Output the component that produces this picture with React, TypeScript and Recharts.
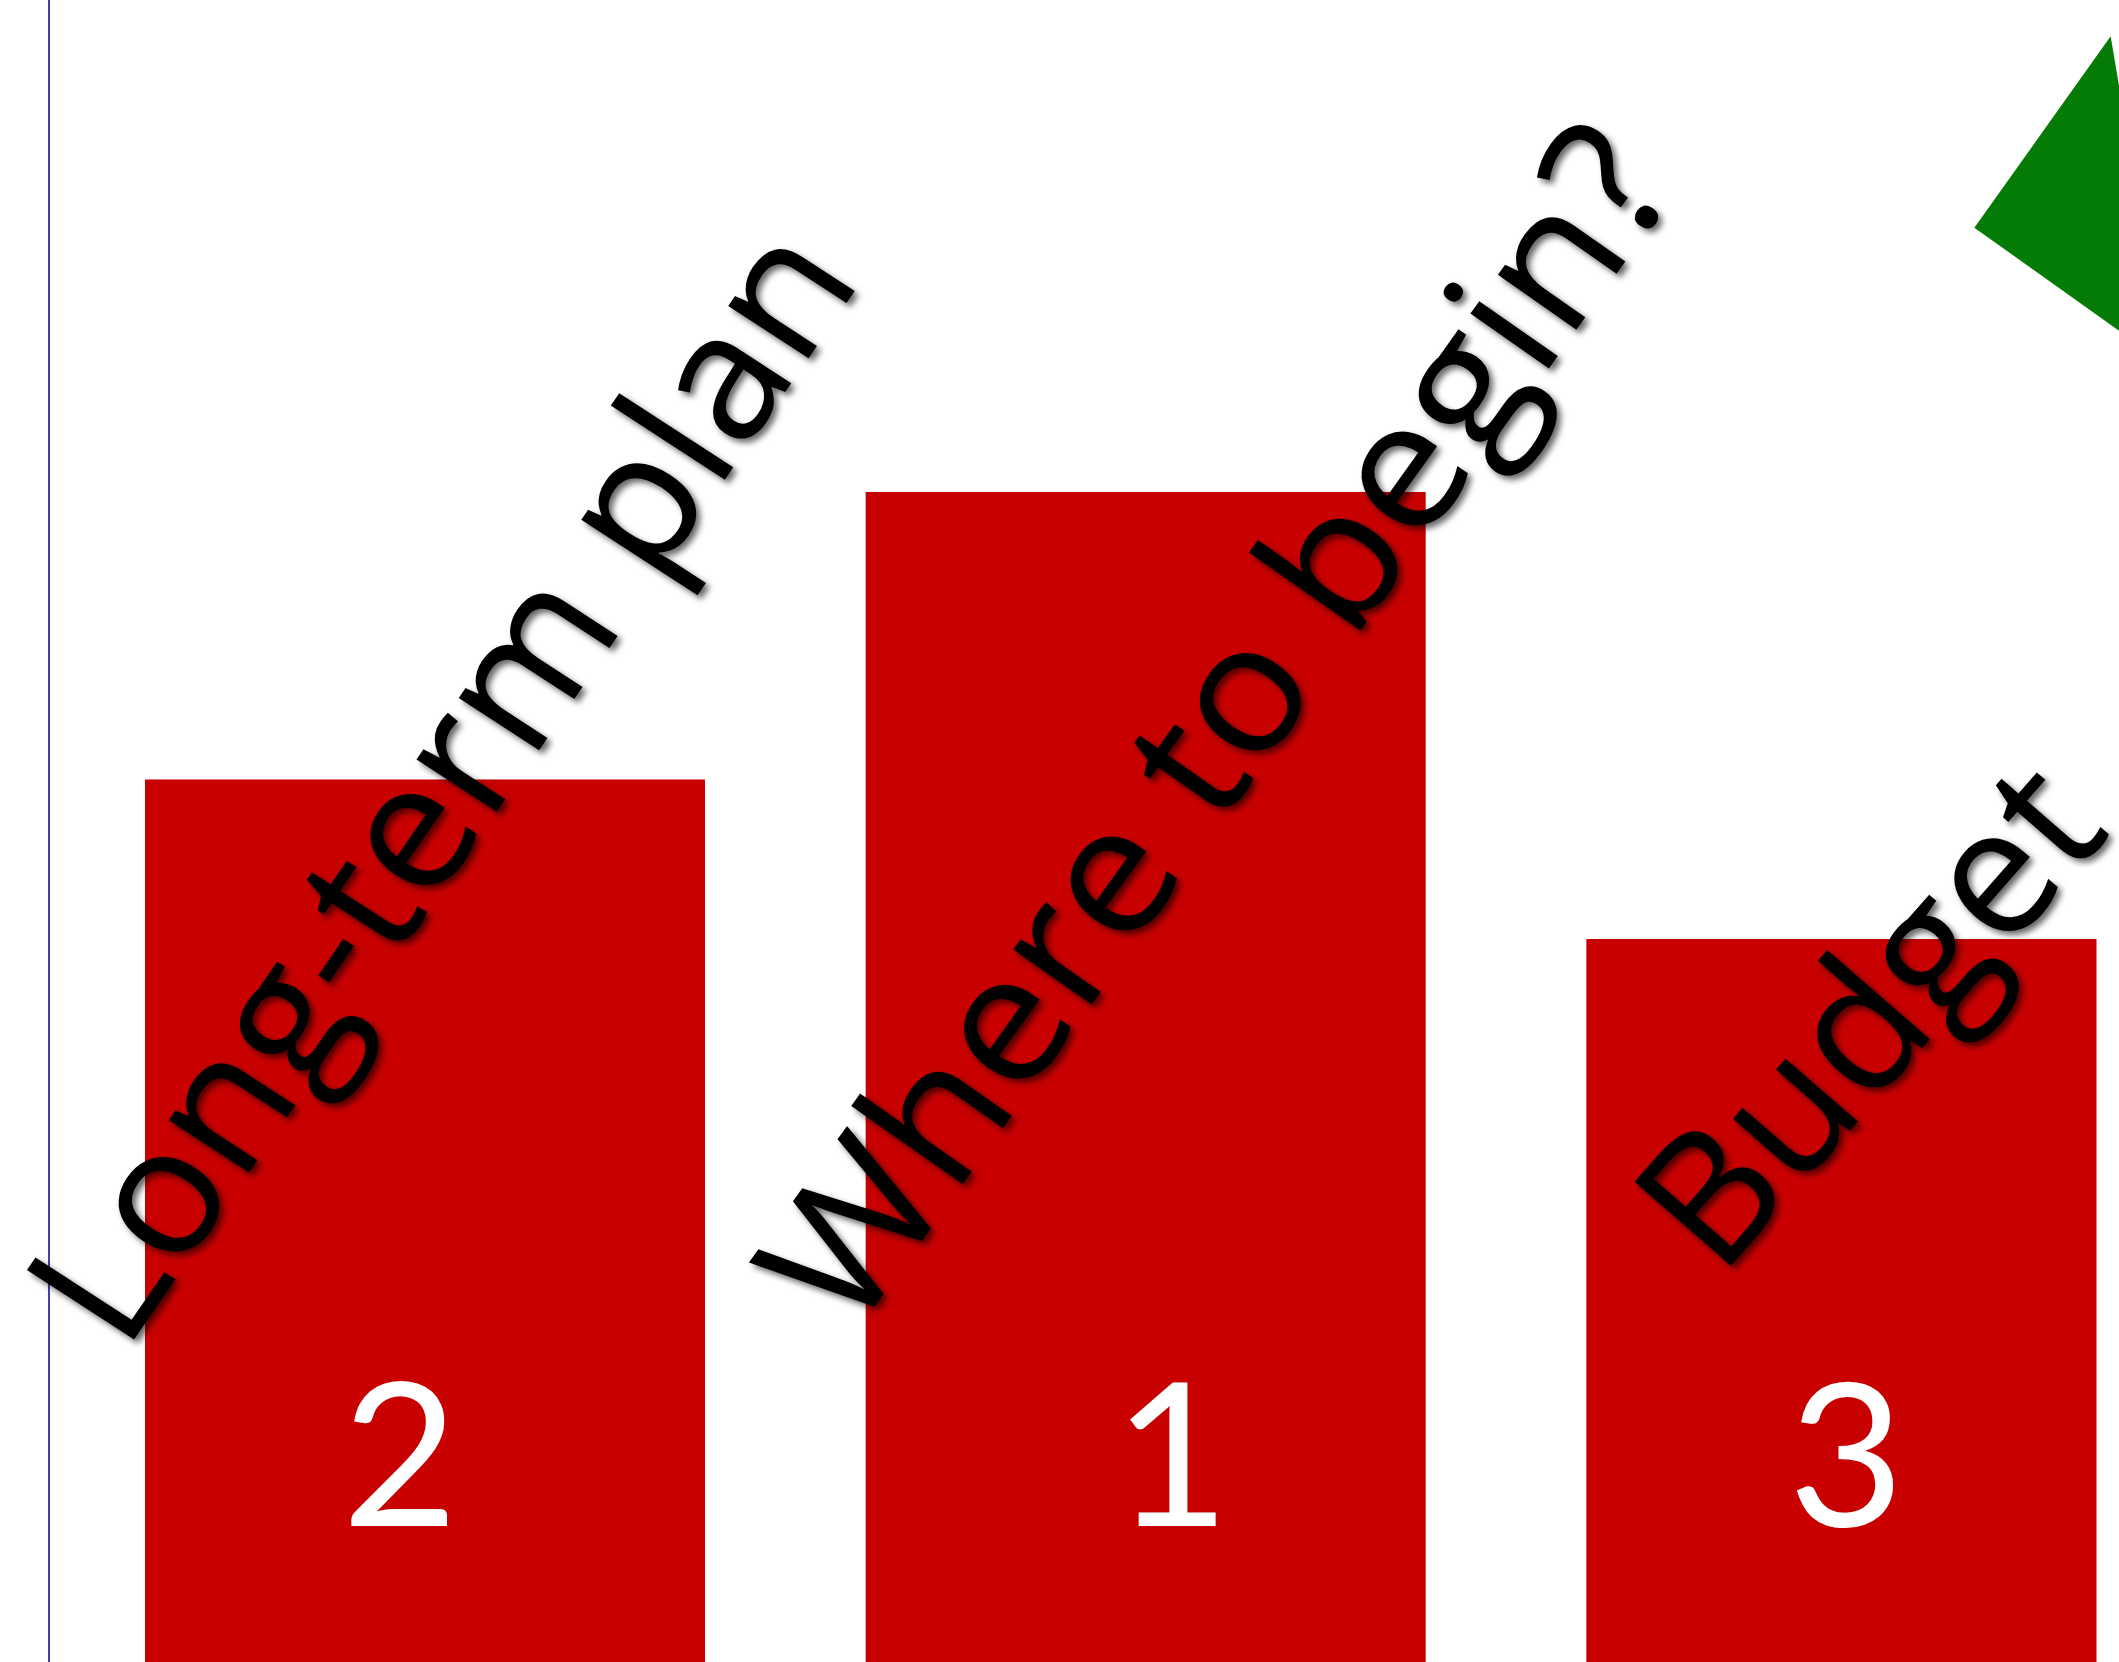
import { ComposedChart, Bar, XAxis, YAxis, Scatter } from "recharts";

const categories = ["Long-term plan", "Where to begin?", "Budget"];
const heights = [53.1, 70.4, 43.5];
const ranks = [2, 1, 3];

// the green corner marker, in % of the plot
const markerX = [88.4];
const markerY = [86.3];

const data = categories.map((name, i) => ({ name, value: heights[i], rank: ranks[i] }));
const markers = markerX.map((x, i) => ({ x, y: markerY[i] }));

const CHART_W = 2227;
const CHART_H = 1663;
const PLOT_RIGHT = 2096.5; // bars are cut off here in the original slide
const BAR_RED = "#C80000";

// slanted captions: offset from the tick, baseline angle, glyph "up" angle, run length
const LABEL_STYLE = [
  { dx: -301.4, dy: -307.8, base: 55.5, up: 33, len: 1305 },
  { dx: -294, dy: -324, base: 54.3, up: 35, len: 1422 },
  { dx: -147.1, dy: -383.2, base: 48.7, up: 41, len: 595 },
];
const RANK_DX = [-25, 26, -20];

function SlantTick(props: any) {
  const { x, y, payload } = props;
  const i = props.index ?? payload.index ?? 0;
  const s = LABEL_STYLE[i];
  const r = Math.PI / 180;
  const m = [
    Math.cos(s.base * r),
    -Math.sin(s.base * r),
    Math.cos(s.up * r),
    Math.sin(s.up * r),
    x + s.dx,
    y + s.dy,
  ];
  return (
    <g filter={`url(#lblShadow${i})`}>
      <defs>
        <filter id={`lblShadow${i}`} x="-10%" y="-10%" width="125%" height="125%">
          <feDropShadow dx={4} dy={4} stdDeviation={3} floodColor="#000" floodOpacity={0.6} />
        </filter>
      </defs>
      <text
        transform={`matrix(${m.join(" ")})`}
        x={0}
        y={0}
        style={{ fontSize: 179, fontFamily: "'Open Sans'", fontWeight: 500 }}
        fill="#000"
        textLength={s.len}
        lengthAdjust="spacingAndGlyphs"
      >
        {payload.value}
      </text>
    </g>
  );
}

// bar clipped at the slide edge, with its rank printed near the foot
const RankBar = (p: any) => {
  const { x, y, width, height, fill, index, payload } = p;
  const w = Math.max(0, Math.min(width, PLOT_RIGHT - x));
  return (
    <g>
      <rect x={x} y={y} width={w} height={height} fill={fill} />
      <text
        x={x + width / 2 + RANK_DX[index]}
        y={y + height - 136}
        textAnchor="middle"
        fill="#fff"
        style={{ fontSize: 200, fontFamily: "Lato" }}
      >
        {payload.rank}
      </text>
    </g>
  );
};

const Corner = (p: any) => {
  const { cx, cy } = p;
  const pts = [
    [cx, cy],
    [cx + 136.3, cy - 191.5],
    [cx + 191.5, cy + 136.3],
  ];
  return <polygon points={pts.map((q) => q.join(",")).join(" ")} fill="#047B04" />;
};

export default function App() {
  return (
    <div
      style={{
        position: "absolute",
        left: 0,
        top: 0,
        width: 2119,
        height: 1662,
        overflow: "hidden",
        background: "#fff",
      }}
    >
      <ComposedChart
        width={CHART_W}
        height={CHART_H}
        data={data}
        margin={{ top: 0, right: 0, bottom: 0, left: 48 }}
      >
        <XAxis
          dataKey="name"
          height={1}
          padding={{ left: 16, right: 0 }}
          axisLine={false}
          tickLine={false}
          tickSize={0}
          tickMargin={0}
          interval={0}
          tick={<SlantTick />}
        />
        <XAxis xAxisId="deco" type="number" dataKey="x" domain={[0, 100]} hide />
        <YAxis
          domain={[0, 100]}
          width={1}
          tick={false}
          tickLine={false}
          axisLine={{ stroke: "#4040A8", strokeWidth: 2 }}
        />
        <YAxis yAxisId="deco" type="number" dataKey="y" domain={[0, 100]} hide />
        <Bar dataKey="value" fill={BAR_RED} barSize={560} shape={<RankBar />} isAnimationActive={false} />
        <Scatter
          data={markers}
          xAxisId="deco"
          yAxisId="deco"
          dataKey="y"
          shape={<Corner />}
          isAnimationActive={false}
        />
      </ComposedChart>
    </div>
  );
}
